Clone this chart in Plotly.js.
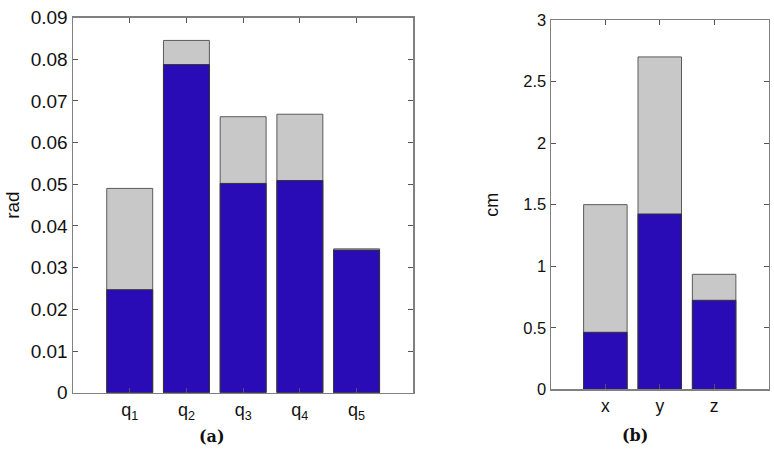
<!DOCTYPE html>
<html>
<head>
<meta charset="utf-8">
<script src="https://cdn.plot.ly/plotly-3.0.1.min.js"></script>
<style>html,body{margin:0;padding:0;background:#fff;}#chart{width:774px;height:451px;}</style>
</head>
<body>
<div id="chart"></div>
<script>
// Panel (a): joint angle errors (rad)
const jointLabels = ['q<sub>1</sub>', 'q<sub>2</sub>', 'q<sub>3</sub>', 'q<sub>4</sub>', 'q<sub>5</sub>'];
const jointTotal = [0.0490, 0.0845, 0.0662, 0.0668, 0.0345];
const jointBase  = [0.0247, 0.0787, 0.0502, 0.0509, 0.0342];

// Panel (b): position errors (cm)
const posLabels = ['x', 'y', 'z'];
const posTotal = [1.50, 2.70, 0.934];
const posBase  = [0.463, 1.424, 0.723];

const grey = '#c8c8c8';
const blue = '#2a0cb6';
const edge = '#5a5a5a';
const fontFam = 'Liberation Sans, Arial, sans-serif';

const traces = [
  {type:'bar', x: jointLabels, y: jointTotal, xaxis:'x', yaxis:'y', width:0.81,
   marker:{color:grey, line:{color:edge, width:1}}, showlegend:false, hoverinfo:'y'},
  {type:'bar', x: jointLabels, y: jointBase, xaxis:'x', yaxis:'y', width:0.81,
   marker:{color:blue, line:{color:'#333', width:1}}, showlegend:false, hoverinfo:'y'},
  {type:'bar', x: posLabels, y: posTotal, xaxis:'x2', yaxis:'y2', width:0.8,
   marker:{color:grey, line:{color:edge, width:1}}, showlegend:false, hoverinfo:'y'},
  {type:'bar', x: posLabels, y: posBase, xaxis:'x2', yaxis:'y2', width:0.8,
   marker:{color:blue, line:{color:'#333', width:1}}, showlegend:false, hoverinfo:'y'}
];

function ax(size, extra) {
  return Object.assign({
    showline:true, linecolor:'#808080', linewidth:1.5, mirror:'ticks',
    ticks:'inside', ticklen:5, tickcolor:'#555', tickwidth:1,
    showgrid:false, zeroline:false,
    tickfont:{family:fontFam, size:size, color:'#111'}
  }, extra);
}

const layout = {
  width:774, height:451,
  margin:{l:0, r:0, t:0, b:0},
  paper_bgcolor:'#fff', plot_bgcolor:'#fff',
  barmode:'overlay',
  font:{family:fontFam, size:16, color:'#111'},
  xaxis: ax(18, {domain:[73/774, 413.3/774], anchor:'y',
    type:'category', range:[-1, 5], categoryorder:'array', categoryarray: jointLabels}),
  yaxis: ax(19, {domain:[58.3/451, 433.5/451], anchor:'x',
    range:[0, 0.09], dtick:0.01, tick0:0,
    title:{text:'rad', font:{family:fontFam, size:19, color:'#111'}, standoff:6}}),
  xaxis2: ax(17.5, {domain:[551/774, 768.5/774], anchor:'y2',
    type:'category', range:[-1, 3], categoryorder:'array', categoryarray: posLabels}),
  yaxis2: ax(16.5, {domain:[61.7/451, 431/451], anchor:'x2',
    range:[0, 3], dtick:0.5, tick0:0,
    title:{text:'cm', font:{family:fontFam, size:18, color:'#111'}, standoff:20}}),
  annotations:[
    {text:'<b>(a)</b>', xref:'paper', yref:'paper', x:212/774, y:(451-436)/451,
     xanchor:'center', yanchor:'middle', showarrow:false,
     font:{family:'DejaVu Serif, Liberation Serif, serif', size:16, color:'#111'}},
    {text:'<b>(b)</b>', xref:'paper', yref:'paper', x:635/774, y:(451-435)/451,
     xanchor:'center', yanchor:'middle', showarrow:false,
     font:{family:'DejaVu Serif, Liberation Serif, serif', size:16, color:'#111'}}
  ]
};

Plotly.newPlot('chart', traces, layout, {staticPlot:true, displayModeBar:false});
</script>
</body>
</html>
